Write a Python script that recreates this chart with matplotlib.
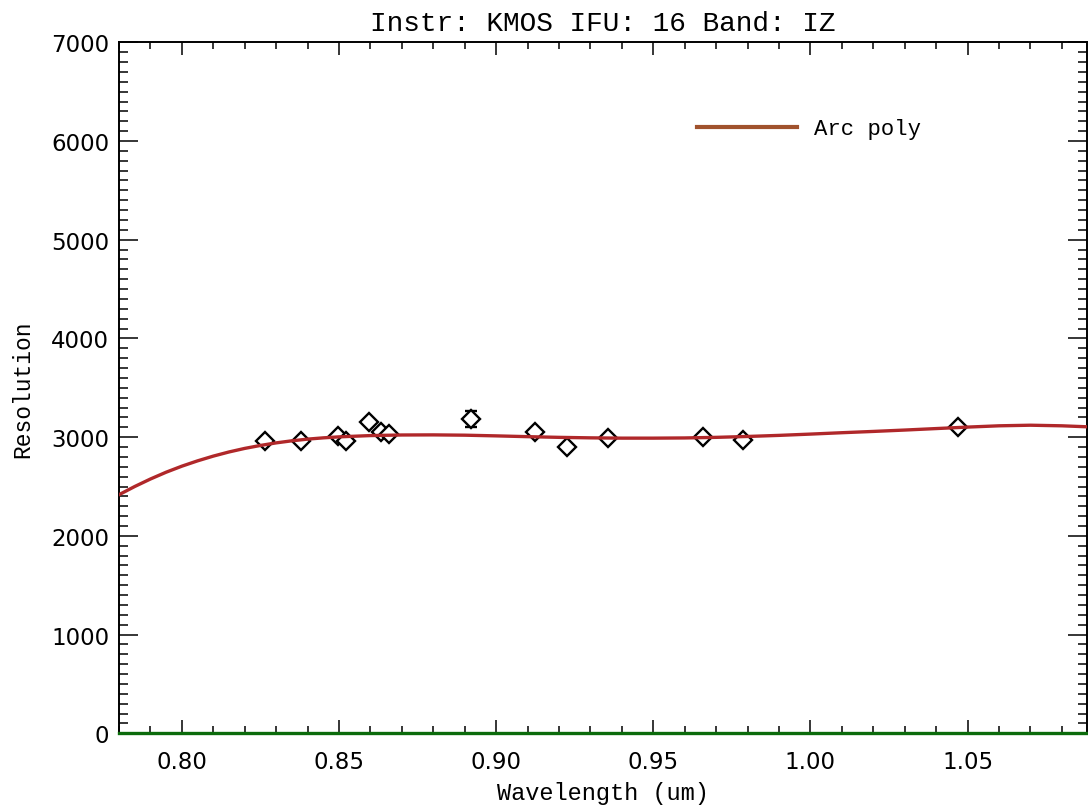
import matplotlib
matplotlib.use("Agg")
import matplotlib.pyplot as plt
from matplotlib.lines import Line2D
from matplotlib.ticker import MultipleLocator, FormatStrFormatter

# Measured arc-line resolutions
wave = [0.8265, 0.8379, 0.8497, 0.8523, 0.8594, 0.8634, 0.8658, 0.8920,
        0.9125, 0.9226, 0.9355, 0.9659, 0.9786, 1.0471]
resol = [2964, 2958, 3009, 2958, 3157, 3055, 3032, 3184,
         3049, 2897, 2989, 3005, 2974, 3100]
resol_err = [15, 15, 15, 15, 15, 15, 15, 81,
             15, 15, 15, 15, 15, 15]

# Polynomial fit curve
curve_x = [0.780, 0.785, 0.790, 0.795, 0.800, 0.805, 0.810, 0.815, 0.820,
           0.825, 0.830, 0.835, 0.840, 0.845,
           0.850, 0.860, 0.870, 0.880, 0.890, 0.900, 0.910, 0.920, 0.930,
           0.940, 0.950, 0.960, 0.970, 0.980, 0.990, 1.000, 1.010, 1.020,
           1.030, 1.040, 1.050, 1.060, 1.070, 1.080, 1.088]
curve_y = [2417, 2500, 2576, 2645, 2706, 2760, 2808, 2850, 2886,
           2916, 2942, 2963, 2980, 2993,
           3003, 3016, 3022, 3023, 3020, 3013, 3005, 2998, 2993,
           2990, 2990, 2992, 2998, 3007, 3018, 3031, 3045, 3058,
           3072, 3087, 3102, 3115, 3121, 3115, 3105]

title = "Instr: KMOS IFU: 16 Band: IZ"
xlabel = "Wavelength (um)"
ylabel = "Resolution"
legend_label = "Arc poly"

TXT = ['Liberation Mono', 'DejaVu Sans Mono']

fig = plt.figure(figsize=(10.88, 8.12), dpi=100)
ax = fig.add_axes([119/1088, 1 - 734.3/812, (1087 - 119)/1088, (734.3 - 43.3)/812])

ax.errorbar(wave, resol, yerr=resol_err, fmt='D', mfc='white', mec='black',
            mew=1.7, ms=9.0, ecolor='black', elinewidth=1.5, capsize=4.5,
            capthick=1.6, zorder=3)
ax.plot(curve_x, curve_y, color='#b0282a', lw=2.4, zorder=4)
ax.axhline(0, color='#0b6b0b', lw=2.4, zorder=5, clip_on=False)

ax.set_xlim(0.78, 1.088)
ax.set_ylim(0, 7000)
ax.xaxis.set_major_locator(MultipleLocator(0.05))
ax.xaxis.set_minor_locator(MultipleLocator(0.01))
ax.yaxis.set_major_locator(MultipleLocator(1000))
ax.yaxis.set_minor_locator(MultipleLocator(100))
ax.xaxis.set_major_formatter(FormatStrFormatter('%.2f'))

ax.tick_params(which='both', direction='in', top=True, right=True, width=1.1,
               labelsize=16.5, color='black')
ax.tick_params(axis='x', which='major', length=9.4, pad=12)
ax.tick_params(axis='x', which='minor', length=5)
ax.tick_params(axis='y', which='major', length=13.7, pad=7)
ax.tick_params(axis='y', which='minor', length=6.5)
for s in ax.spines.values():
    s.set_linewidth(1.4)

ax.set_title(title, family=TXT, fontsize=20, pad=9)
ax.set_xlabel(xlabel, family=TXT, fontsize=17, labelpad=6)
ax.set_ylabel(ylabel, family=TXT, fontsize=16.5, labelpad=12)

handle = Line2D([], [], color='#a0522d', lw=3)
ax.legend([handle], [legend_label], loc='center left',
          bbox_to_anchor=((697 - 119)/968, (734.3 - 130)/691),
          frameon=False, borderpad=0, borderaxespad=0, handlelength=4.5,
          handletextpad=0.75, prop={'family': TXT, 'size': 16})

fig.savefig('out.png', dpi=100)
